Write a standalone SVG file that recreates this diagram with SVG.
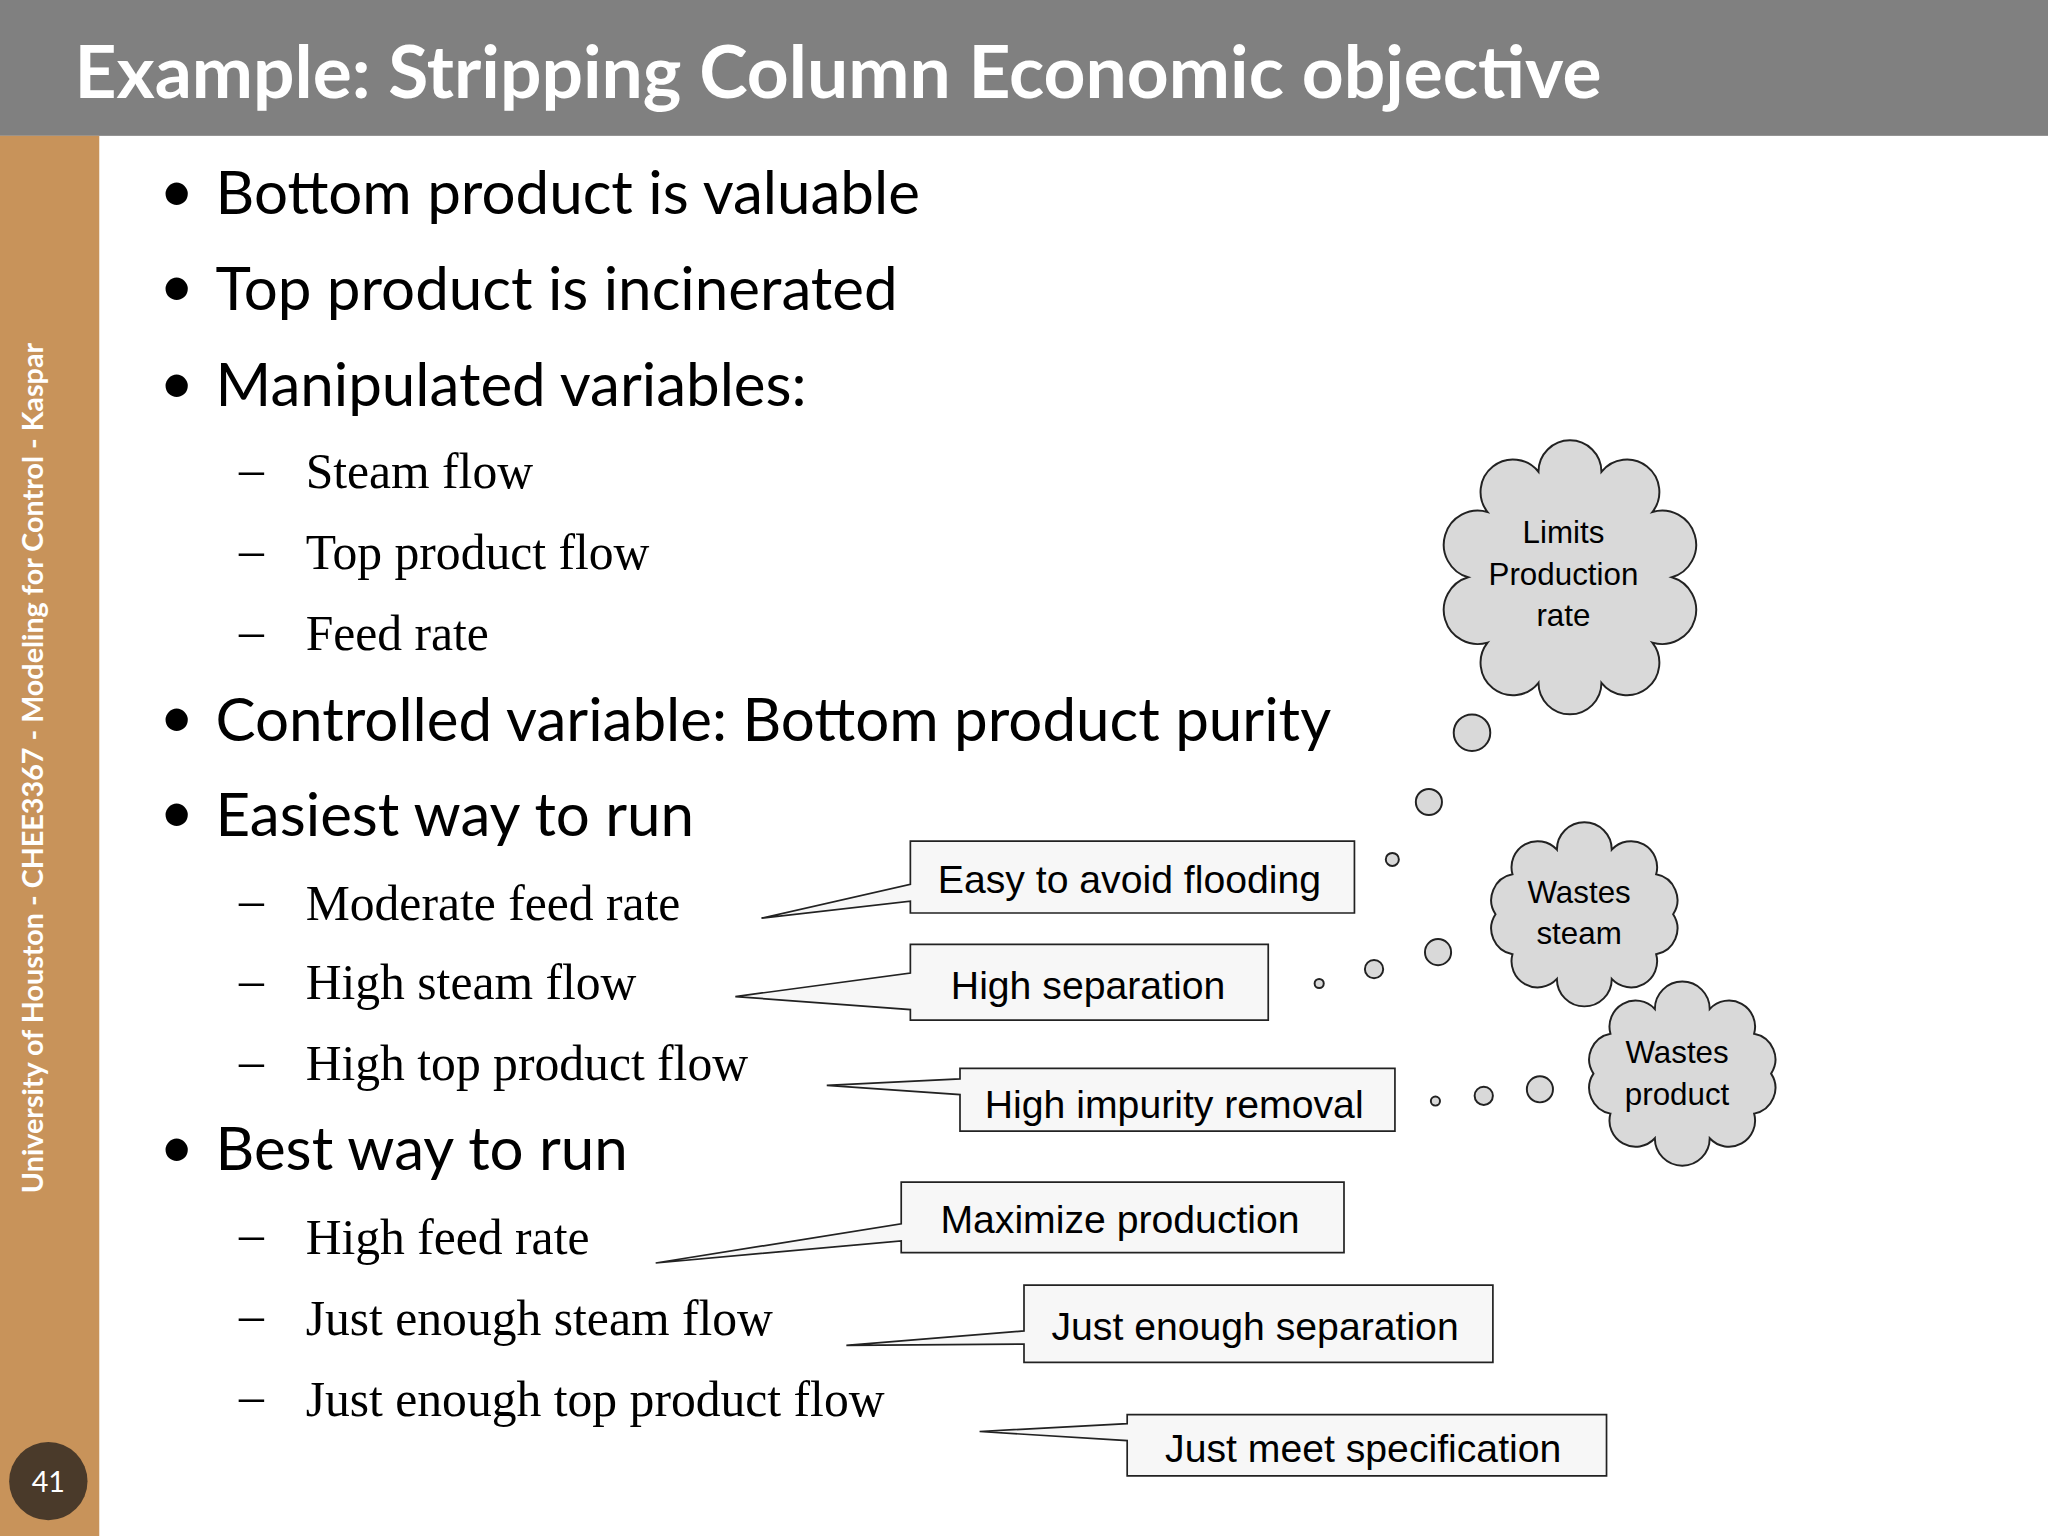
<svg xmlns="http://www.w3.org/2000/svg" xmlns:xlink="http://www.w3.org/1999/xlink" width="2048" height="1536" viewBox="0 0 2048 1536">
<style>
.b{font-family:Lato,"Open Sans",sans-serif;font-size:46px;fill:#000}
.s{font-family:"Liberation Serif",serif;font-size:38px;fill:#000}
.c{font-family:"Liberation Sans",Arial,sans-serif;font-size:30px;fill:#000}
.k{font-family:"Liberation Sans",Arial,sans-serif;font-size:24px;fill:#000;text-anchor:middle}
.box{fill:#f7f7f7;stroke:#222;stroke-width:1.3}
.cl{fill:#d9d9d9;stroke:#222;stroke-width:1.5}
</style>
<defs>
<path id="cloud2" d="M1281,700 A20,20 0 0 1 1268,730.6 A20,20 0 0 1 1234,749.5 A20,20 0 0 1 1192,749.5 A20,20 0 0 1 1158,730.6 A20,20 0 0 1 1145,700 A20,20 0 0 1 1158,669.4 A20,20 0 0 1 1192,650.5 A20,20 0 0 1 1234,650.5 A20,20 0 0 1 1268,669.4 A20,20 0 0 1 1281,700 Z"/>
</defs>
<rect width="2048" height="1536" fill="#fff"/>
<g transform="scale(1.30612)">
<g id="header">
<rect x="0" y="0" width="1568" height="104" fill="#808080"/>
<text x="57" y="75" font-family="Lato,'Open Sans',sans-serif" font-weight="bold" font-size="56" fill="#fff">Example: Stripping Column Economic objective</text>
</g>
<g id="sidebar">
<rect x="0" y="104" width="76" height="1072" fill="#c8935a"/>
<text transform="translate(33,588) rotate(-90)" text-anchor="middle" font-family="Lato,'Open Sans',sans-serif" font-weight="bold" font-size="22" fill="#fff">University of Houston - CHEE3367 - Modeling for Control - Kaspar</text>
<circle cx="37" cy="1134" r="30" fill="#4a3a2a"/>
<text x="37" y="1142" text-anchor="middle" font-family="Lato,sans-serif" font-size="22" fill="#fff">41</text>
</g>
<g id="bullets">
<text class="b" x="122" y="162">•</text><text class="b" x="165" y="164">Bottom product is valuable</text>
<text class="b" x="122" y="235">•</text><text class="b" x="165" y="237">Top product is incinerated</text>
<text class="b" x="122" y="309">•</text><text class="b" x="165" y="311">Manipulated variables:</text>
<text class="b" x="122" y="565">•</text><text class="b" x="165" y="567">Controlled variable: Bottom product purity</text>
<text class="b" x="122" y="638">•</text><text class="b" x="165" y="640">Easiest way to run</text>
<text class="b" x="122" y="894">•</text><text class="b" x="165" y="896">Best way to run</text>
<g class="s">
<text class="s" x="183" y="372">–</text><text class="s" x="234" y="374">Steam flow</text>
<text class="s" x="183" y="434">–</text><text class="s" x="234" y="436">Top product flow</text>
<text class="s" x="183" y="496">–</text><text class="s" x="234" y="498">Feed rate</text>
<text class="s" x="183" y="702">–</text><text class="s" x="234" y="704">Moderate feed rate</text>
<text class="s" x="183" y="763">–</text><text class="s" x="234" y="765">High steam flow</text>
<text class="s" x="183" y="825">–</text><text class="s" x="234" y="827">High top product flow</text>
<text class="s" x="183" y="958">–</text><text class="s" x="234" y="960">High feed rate</text>
<text class="s" x="183" y="1020">–</text><text class="s" x="234" y="1022">Just enough steam flow</text>
<text class="s" x="183" y="1082">–</text><text class="s" x="234" y="1084">Just enough top product flow</text>
</g>
</g>
<g id="callouts">
<path class="box" d="M697,644 H1037 V699 H697 V690 L583,703 L697,677 Z"/>
<text class="c" x="718" y="684">Easy to avoid flooding</text>
<path class="box" d="M697,723 H971 V781 H697 V773 L563,763 L697,745 Z"/>
<text class="c" x="728" y="765">High separation</text>
<path class="box" d="M735,818 H1068 V866 H735 V838 L633,831 L735,826 Z"/>
<text class="c" x="754" y="856">High impurity removal</text>
<path class="box" d="M690,905 H1029 V959 H690 V950 L502,967 L690,937 Z"/>
<text class="c" x="720" y="944">Maximize production</text>
<path class="box" d="M784,984 H1143 V1043 H784 V1029 L648,1030 L784,1019 Z"/>
<text class="c" x="805" y="1026">Just enough separation</text>
<path class="box" d="M863,1083 H1230 V1130 H863 V1103 L750,1096 L863,1090 Z"/>
<text class="c" x="892" y="1119">Just meet specification</text>
</g>
<g id="thoughts">
<g class="cl">
<path d="M1280,442 A20,20 0 0 1 1265.1,492 A20,20 0 0 1 1226.1,522.8 A20,20 0 0 1 1177.9,522.8 A20,20 0 0 1 1138.9,492 A20,20 0 0 1 1124,442 A20,20 0 0 1 1138.9,392 A20,20 0 0 1 1177.9,361.2 A20,20 0 0 1 1226.1,361.2 A20,20 0 0 1 1265.1,392 A20,20 0 0 1 1280,442 Z"/>
<use xlink:href="#cloud2"/>
<use xlink:href="#cloud2" transform="translate(75,122)"/>
<circle cx="1127" cy="561" r="14"/><circle cx="1094" cy="614" r="10"/><circle cx="1066" cy="658" r="5"/>
<circle cx="1101" cy="729" r="10"/><circle cx="1052" cy="742" r="7"/><circle cx="1010" cy="753" r="3.5"/>
<circle cx="1179" cy="834" r="10"/><circle cx="1136" cy="839" r="7"/><circle cx="1099" cy="843" r="3.5"/>
</g>
<text class="k" x="1197" y="416">Limits</text>
<text class="k" x="1197" y="448">Production</text>
<text class="k" x="1197" y="479">rate</text>
<text class="k" x="1209" y="691">Wastes</text>
<text class="k" x="1209" y="723">steam</text>
<text class="k" x="1284" y="814">Wastes</text>
<text class="k" x="1284" y="846">product</text>
</g>
</g>
</svg>
